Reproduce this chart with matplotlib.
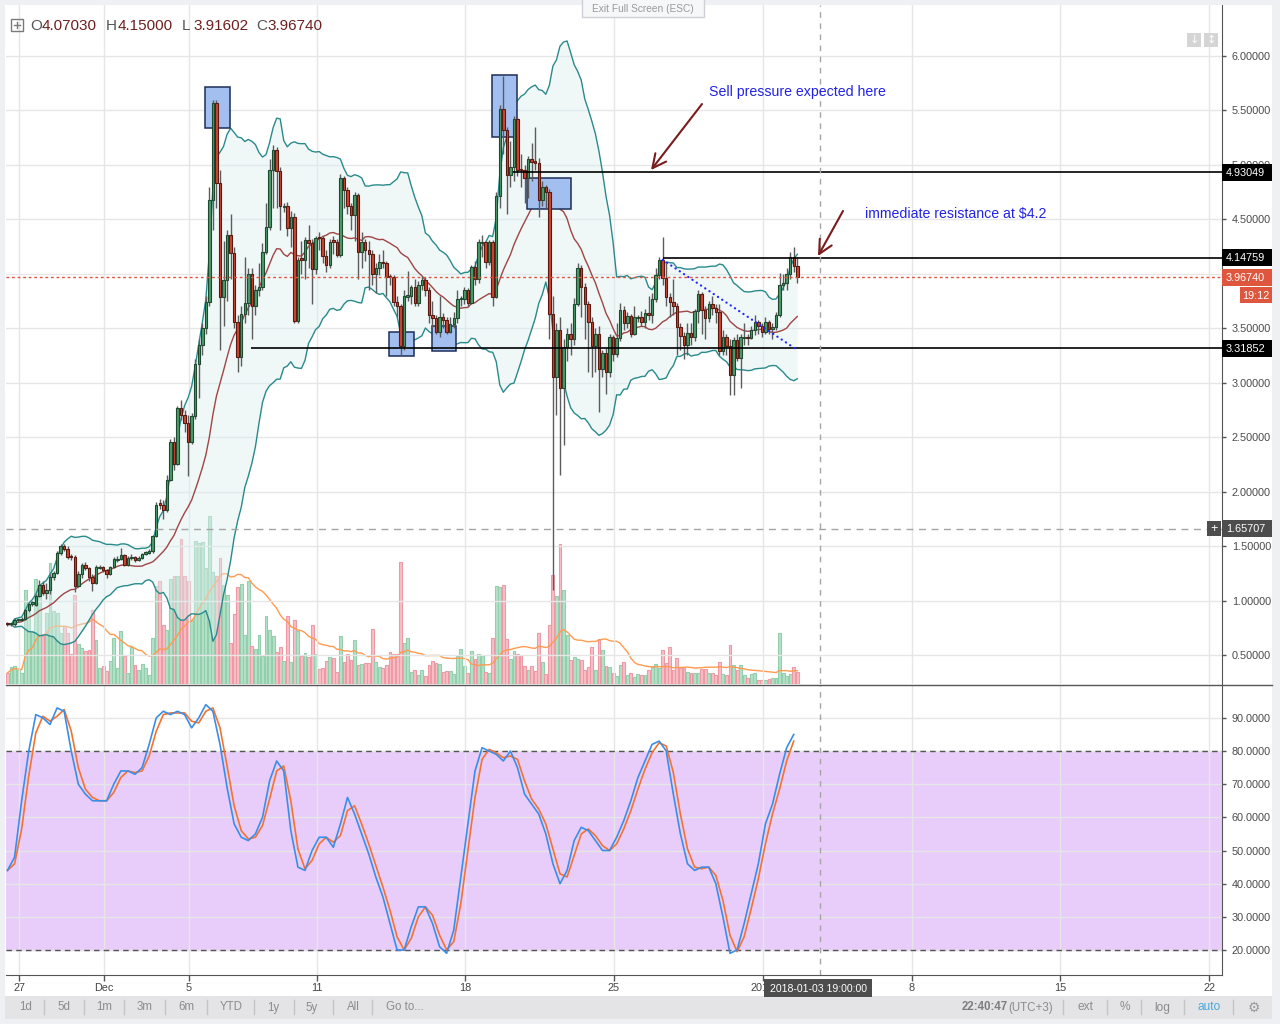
import numpy as np
import pandas as pd
import matplotlib
matplotlib.use("Agg")
import matplotlib.pyplot as plt
from matplotlib.patches import Rectangle
from matplotlib.lines import Line2D
from matplotlib.ticker import FormatStrFormatter, FuncFormatter

plt.rcParams['font.family'] = ['Liberation Sans', 'DejaVu Sans']

# ---------------- data (4h candles) ----------------
first_candle = "2017-11-26 11:00"

opens = [
    0.79, 0.78, 0.78, 0.82, 0.82, 0.83, 0.91, 0.97, 0.96, 1.04,
    1.14, 1.07, 1.10, 1.22, 1.25, 1.44, 1.50, 1.47, 1.41, 1.40,
    1.13, 1.24, 1.33, 1.30, 1.22, 1.16, 1.30, 1.31, 1.28, 1.24,
    1.31, 1.37, 1.38, 1.42, 1.33, 1.39, 1.40, 1.37, 1.39, 1.43,
    1.44, 1.45, 1.59, 1.89, 1.88, 1.83, 2.11, 2.46, 2.25, 2.77,
    2.70, 2.63, 2.46, 2.69, 3.17, 3.35, 3.50, 3.74, 4.68, 5.57,
    4.83, 3.79, 3.94, 4.36, 4.19, 3.56, 3.24, 3.63, 3.73, 4.00,
    3.70, 3.85, 3.88, 4.20, 4.43, 4.95, 5.14, 4.94, 4.61, 4.62,
    4.42, 4.52, 3.57, 4.14, 4.13, 4.31, 4.28, 4.04, 4.34, 4.33,
    4.16, 4.08, 4.31, 4.29, 4.17, 4.88, 4.77, 4.62, 4.54, 4.72,
    4.20, 4.29, 4.22, 4.18, 4.00, 4.05, 4.11, 4.10, 3.98, 3.97,
    3.74, 3.70, 3.34, 3.79, 3.80, 3.88, 3.73, 3.90, 3.94, 3.85,
    3.62, 3.59, 3.47, 3.60, 3.58, 3.47, 3.54, 3.59, 3.77, 3.77,
    3.85, 3.73, 4.06, 3.95, 4.28, 4.29, 4.11, 4.29, 3.79, 4.71,
    5.51, 5.32, 4.91, 4.98, 5.42, 4.96, 4.95, 4.88, 5.05, 5.03,
    5.02, 4.68, 4.80, 4.75, 3.63, 3.05, 3.48, 2.95, 3.33, 3.45,
    3.40, 3.72, 4.05, 3.88, 3.72, 3.56, 3.34, 3.45, 3.13, 3.27,
    3.10, 3.42, 3.26, 3.41, 3.67, 3.55, 3.61, 3.45, 3.59, 3.60,
    3.56, 3.64, 3.62, 3.77, 3.99, 4.13, 3.96, 3.79, 3.74, 3.70,
    3.51, 3.43, 3.35, 3.46, 3.42, 3.66, 3.81, 3.67, 3.59, 3.72,
    3.69, 3.65, 3.29, 3.42, 3.34, 3.07, 3.39, 3.23, 3.41, 3.42,
    3.41, 3.48, 3.56, 3.52, 3.47, 3.56, 3.49, 3.51, 3.62, 3.90,
    3.92, 4.00, 4.15, 4.0703,
]
highs = [
    0.80, 0.79, 0.84, 0.83, 0.85, 0.92, 0.98, 1.00, 1.06, 1.19,
    1.18, 1.16, 1.24, 1.27, 1.45, 1.52, 1.52, 1.50, 1.43, 1.42,
    1.27, 1.34, 1.35, 1.31, 1.24, 1.33, 1.33, 1.32, 1.29, 1.32,
    1.40, 1.41, 1.48, 1.43, 1.41, 1.43, 1.41, 1.41, 1.44, 1.45,
    1.47, 1.60, 1.90, 1.93, 1.92, 2.15, 2.48, 2.50, 2.79, 2.84,
    2.75, 2.70, 2.72, 3.22, 3.40, 3.55, 3.80, 4.80, 5.60, 5.60,
    4.95, 4.30, 4.40, 4.55, 4.25, 3.62, 3.70, 4.15, 4.05, 4.05,
    3.90, 4.10, 4.28, 4.65, 5.05, 5.18, 5.16, 4.98, 4.65, 4.66,
    4.58, 4.56, 4.15, 4.30, 4.34, 4.45, 4.32, 4.35, 4.38, 4.35,
    4.22, 4.32, 4.35, 4.32, 4.92, 4.90, 4.80, 4.65, 4.75, 4.74,
    4.38, 4.32, 4.30, 4.22, 4.10, 4.18, 4.22, 4.12, 4.00, 3.99,
    3.80, 3.72, 3.85, 4.03, 3.90, 3.95, 3.93, 3.98, 3.97, 3.88,
    3.75, 3.62, 3.80, 3.64, 3.60, 3.60, 3.65, 3.85, 3.80, 3.88,
    3.87, 4.08, 4.12, 4.32, 4.36, 4.30, 4.31, 4.31, 4.75, 5.55,
    5.82, 5.35, 5.22, 5.45, 5.44, 5.10, 5.00, 5.08, 5.20, 5.35,
    5.06, 4.85, 4.82, 4.78, 3.80, 3.55, 3.60, 3.40, 3.50, 3.55,
    3.78, 4.10, 4.08, 3.92, 3.75, 3.60, 3.50, 3.52, 3.30, 3.32,
    3.45, 3.44, 3.55, 3.73, 3.70, 3.65, 3.63, 3.70, 3.62, 3.66,
    3.68, 3.80, 3.82, 4.05, 4.15, 4.34, 4.10, 3.82, 3.95, 3.73,
    3.55, 3.47, 3.55, 3.55, 3.68, 3.85, 3.83, 3.70, 3.75, 3.80,
    3.72, 3.72, 3.48, 3.45, 3.40, 3.42, 3.45, 3.45, 3.55, 3.45,
    3.52, 3.62, 3.58, 3.55, 3.60, 3.58, 3.55, 3.65, 4.01, 4.00,
    4.05, 4.20, 4.25, 4.15,
]
lows = [
    0.77, 0.77, 0.77, 0.80, 0.81, 0.82, 0.89, 0.95, 0.95, 1.03,
    1.05, 1.01, 1.06, 1.19, 1.24, 1.42, 1.45, 1.38, 1.37, 1.08,
    1.12, 1.21, 1.28, 1.18, 1.09, 1.15, 1.29, 1.26, 1.21, 1.23,
    1.30, 1.35, 1.37, 1.32, 1.32, 1.37, 1.35, 1.36, 1.38, 1.42,
    1.43, 1.44, 1.58, 1.84, 1.75, 1.81, 2.10, 2.20, 2.24, 2.66,
    2.55, 2.14, 2.44, 2.67, 2.86, 3.25, 3.45, 3.70, 4.40, 4.60,
    3.30, 3.52, 3.75, 3.95, 3.50, 3.10, 3.15, 3.55, 3.62, 3.40,
    3.62, 3.80, 3.85, 4.18, 4.40, 4.60, 4.60, 4.40, 4.57, 4.35,
    4.25, 3.55, 3.55, 4.00, 3.95, 4.05, 3.72, 4.00, 4.22, 4.10,
    4.02, 4.05, 4.18, 4.15, 4.15, 4.60, 4.55, 4.40, 4.30, 3.95,
    4.05, 4.12, 3.85, 3.90, 3.82, 3.99, 4.05, 3.80, 3.90, 3.70,
    3.60, 3.25, 3.30, 3.75, 3.72, 3.70, 3.70, 3.85, 3.80, 3.55,
    3.50, 3.45, 3.42, 3.50, 3.45, 3.46, 3.50, 3.55, 3.70, 3.72,
    3.70, 3.72, 3.90, 3.92, 4.15, 4.05, 4.08, 3.70, 3.78, 4.60,
    5.10, 4.55, 4.80, 4.85, 4.90, 4.80, 4.65, 4.70, 4.85, 4.95,
    4.52, 4.62, 4.60, 3.40, 1.10, 2.70, 2.15, 2.43, 3.20, 3.25,
    3.35, 3.70, 3.60, 3.40, 3.10, 3.05, 3.10, 2.73, 3.05, 2.90,
    3.05, 3.20, 3.24, 3.38, 3.48, 3.50, 3.42, 3.44, 3.56, 3.52,
    3.50, 3.58, 3.55, 3.74, 3.95, 3.90, 3.70, 3.60, 3.62, 3.25,
    3.30, 3.22, 3.25, 3.35, 3.38, 3.55, 3.45, 3.40, 3.56, 3.62,
    3.55, 3.25, 3.25, 3.25, 2.89, 2.89, 3.20, 2.95, 3.35, 3.35,
    3.40, 3.44, 3.45, 3.42, 3.45, 3.45, 3.40, 3.48, 3.60, 3.85,
    3.85, 3.95, 4.02, 3.91602,
]
closes = [
    0.78, 0.78, 0.82, 0.82, 0.83, 0.91, 0.97, 0.97, 1.04, 1.14,
    1.07, 1.10, 1.22, 1.25, 1.44, 1.50, 1.47, 1.40, 1.40, 1.13,
    1.24, 1.33, 1.30, 1.22, 1.16, 1.31, 1.31, 1.28, 1.24, 1.31,
    1.38, 1.38, 1.42, 1.33, 1.39, 1.40, 1.37, 1.39, 1.43, 1.44,
    1.45, 1.59, 1.88, 1.88, 1.83, 2.11, 2.46, 2.25, 2.77, 2.70,
    2.63, 2.46, 2.69, 3.17, 3.35, 3.50, 3.74, 4.68, 5.57, 4.83,
    3.79, 3.94, 4.36, 4.19, 3.56, 3.24, 3.63, 3.73, 4.00, 3.70,
    3.85, 3.88, 4.20, 4.43, 4.95, 5.14, 4.94, 4.62, 4.62, 4.42,
    4.52, 3.57, 4.13, 4.13, 4.31, 4.28, 4.04, 4.33, 4.33, 4.16,
    4.08, 4.29, 4.29, 4.17, 4.88, 4.77, 4.62, 4.54, 4.72, 4.20,
    4.29, 4.22, 4.18, 4.00, 4.05, 4.11, 4.10, 3.97, 3.97, 3.74,
    3.70, 3.34, 3.80, 3.80, 3.88, 3.73, 3.90, 3.94, 3.85, 3.62,
    3.59, 3.47, 3.60, 3.58, 3.47, 3.54, 3.59, 3.77, 3.77, 3.85,
    3.73, 4.06, 3.95, 4.29, 4.29, 4.11, 4.29, 3.79, 4.71, 5.51,
    5.32, 4.91, 4.98, 5.42, 4.95, 4.95, 4.88, 5.05, 5.03, 5.02,
    4.68, 4.80, 4.75, 3.63, 3.05, 3.48, 2.95, 3.33, 3.45, 3.40,
    3.72, 4.05, 3.88, 3.72, 3.56, 3.34, 3.45, 3.13, 3.27, 3.10,
    3.42, 3.26, 3.41, 3.67, 3.55, 3.61, 3.45, 3.60, 3.60, 3.56,
    3.64, 3.62, 3.77, 3.99, 4.13, 3.96, 3.79, 3.74, 3.70, 3.51,
    3.43, 3.35, 3.46, 3.42, 3.66, 3.81, 3.67, 3.59, 3.72, 3.69,
    3.65, 3.29, 3.42, 3.34, 3.07, 3.39, 3.23, 3.42, 3.42, 3.41,
    3.48, 3.56, 3.52, 3.47, 3.56, 3.49, 3.51, 3.62, 3.90, 3.92,
    4.00, 4.15, 4.07, 3.9674,
]
volumes = [
    11, 17, 18, 14, 11, 94, 71, 53, 105, 94,
    48, 71, 121, 73, 71, 51, 58, 51, 30, 89,
    40, 36, 33, 34, 74, 44, 16, 18, 13, 23,
    46, 16, 53, 28, 11, 37, 19, 14, 20, 16,
    9, 46, 98, 103, 59, 54, 105, 108, 108, 145,
    108, 103, 64, 143, 141, 142, 116, 168, 112, 108,
    126, 99, 89, 41, 70, 97, 100, 49, 103, 38,
    35, 49, 28, 68, 54, 48, 32, 37, 23, 68,
    22, 64, 53, 28, 31, 27, 59, 30, 15, 16,
    23, 27, 26, 12, 48, 22, 30, 24, 44, 19,
    20, 21, 21, 55, 22, 17, 16, 19, 32, 30,
    30, 122, 41, 46, 12, 14, 9, 14, 8, 19,
    23, 21, 20, 12, 13, 13, 10, 28, 35, 18,
    11, 33, 25, 30, 28, 12, 11, 46, 98, 97,
    99, 45, 25, 33, 30, 28, 18, 14, 18, 13,
    51, 22, 10, 59, 109, 88, 140, 94, 49, 24,
    27, 25, 24, 14, 17, 37, 14, 45, 34, 18,
    17, 11, 8, 19, 22, 9, 11, 7, 10, 9,
    9, 14, 17, 20, 16, 34, 21, 37, 14, 26,
    16, 16, 12, 11, 11, 11, 15, 15, 11, 11,
    9, 22, 10, 9, 39, 19, 14, 19, 9, 6,
    10, 11, 4, 4, 4, 5, 6, 6, 51, 11,
    8, 10, 17, 12,
]
# Stochastic %K read at every second candle
stoch_k = [
    44, 48, 65, 80, 91, 90, 88, 93, 92, 80,
    70, 67, 65, 65, 65, 70, 74, 74, 73, 75,
    82, 90, 92, 91, 92, 91, 87, 90, 94, 92,
    82, 69, 58, 54, 53, 55, 60, 71, 77, 74,
    56, 45, 44, 50, 54, 54, 51, 58, 66, 61,
    55, 49, 42, 36, 28, 20, 20, 27, 33, 33,
    28, 21, 19, 26, 42, 58, 74, 81, 80, 79,
    77, 80, 75, 67, 64, 61, 55, 46, 40, 44,
    53, 57, 56, 53, 50, 50, 54, 59, 65, 72,
    77, 82, 83, 80, 67, 55, 46, 44, 45, 45,
    40, 30, 19, 20, 28, 37, 46, 58, 64, 73,
    81, 85,
]

tick_dates = ["2017-11-27", "2017-12-01", "2017-12-05", "2017-12-11", "2017-12-18",
              "2017-12-25", "2018-01-01", "2018-01-08", "2018-01-15", "2018-01-22"]
tick_labels = ["27", "Dec", "5", "11", "18", "25", "2018", "8", "15", "22"]
price_ticks = [0.5, 1.0, 1.5, 2.0, 2.5, 3.0, 3.5, 4.0, 4.5, 5.0, 5.5, 6.0]
stoch_ticks = [20, 30, 40, 50, 60, 70, 80, 90]
level_prices = [4.93049, 4.14759, 3.31852]
level_starts = ["2017-12-20 06:00", "2017-12-27 07:00", "2017-12-07 22:00"]
cursor_price = 1.65707
cursor_time = "2018-01-03 19:00"
cursor_label = "2018-01-03 19:00:00"
countdown = "19:12"

# ---------------- helpers ----------------
W, H = 1280, 1024
fig = plt.figure(figsize=(W / 100, H / 100), dpi=100)
fig.patch.set_facecolor('#eef0f3')

ref = pd.Timestamp("2017-12-01")


def day(ts):
    return (pd.Timestamp(ts) - ref) / pd.Timedelta(days=1)


def px2day(px):
    return (px - 104) / 21.25


def fx(px):
    return px / W


def fy(py):
    return 1 - py / H


def frect(x0, y0, x1, y1, **kw):
    r = Rectangle((fx(x0), fy(y1)), fx(x1) - fx(x0), fy(y0) - fy(y1),
                  transform=fig.transFigure, **kw)
    fig.add_artist(r)
    return r


def ftext(x, y, s, **kw):
    return fig.text(fx(x), fy(y), s, **kw)


def fline(x0, y0, x1, y1, **kw):
    fig.add_artist(Line2D([fx(x0), fx(x1)], [fy(y0), fy(y1)], transform=fig.transFigure, **kw))


N = len(closes)
o = np.asarray(opens)
hi = np.asarray(highs)
lo = np.asarray(lows)
c = np.asarray(closes)
v = np.asarray(volumes, dtype=float)
times = pd.date_range(first_candle, periods=N, freq="4h")
t = np.asarray((times - ref) / pd.Timedelta(days=1), dtype=float)
up = c >= o

# chart background
frect(5, 5, 1272, 996, facecolor='white', edgecolor='none', zorder=-5)

L, R = 6, 1222
rect_p = [fx(L), fy(684), fx(R) - fx(L), fy(5) - fy(684)]
vax = fig.add_axes(rect_p, label='volume')
ax = fig.add_axes(rect_p, label='price')
sax = fig.add_axes([fx(L), fy(975), fx(R) - fx(L), fy(685) - fy(975)], label='stoch')
vax.set_zorder(0)
ax.set_zorder(0.5)
ax.patch.set_visible(False)
vax.set_axis_off()

xl = (px2day(L), px2day(R))
tick_pos = [day(d) for d in tick_dates]
grid_c = '#e6e6e6'

for a in (vax, ax, sax):
    a.set_xlim(xl)

ax.set_ylim(0.2333, 6.4683)
vax.set_ylim(0, 679)
sax.set_ylim(12.46, 99.92)


def price_fmt(val, pos):
    # the 4.00000 label sits under the live-price tag and is not visible
    return '' if abs(val - 4.0) < 1e-9 else f"{val:.5f}"


for a, yt, fmt in ((ax, price_ticks, FuncFormatter(price_fmt)),
                   (sax, stoch_ticks, FormatStrFormatter('%.4f'))):
    a.set_xticks(tick_pos)
    a.set_yticks(yt)
    a.yaxis.set_major_formatter(fmt)
    a.yaxis.tick_right()
    a.grid(True, color=grid_c, lw=1)
    a.set_axisbelow(True)
    a.tick_params(axis='y', length=3, width=1, color='#555555', labelsize=7.8,
                  labelcolor='#4a4a4a', pad=4)
    a.spines['top'].set_visible(False)
    a.spines['left'].set_visible(False)
    a.spines['right'].set_color('#555555')

ax.spines['bottom'].set_visible(False)
ax.tick_params(axis='x', length=0, labelbottom=False)
sax.spines['bottom'].set_color('#555555')
sax.set_xticklabels(tick_labels)
sax.tick_params(axis='x', length=4, width=1, color='#555555', labelsize=7.8,
                labelcolor='#444444', pad=2)

# ---------------- volume ----------------
vax.bar(t, v, width=0.135, color=np.where(up, '#b5e0c8', '#f8c0c7'),
        edgecolor=np.where(up, '#92cfad', '#ee9aa5'), linewidth=0.8, zorder=1)
vma = pd.Series(v).rolling(20, min_periods=1).mean()
vax.plot(t, vma, color='#ff9a50', lw=1.0, zorder=2)

# ---------------- Bollinger bands ----------------
cs = pd.Series(c)
basis = cs.rolling(20, min_periods=1).mean()
dev = cs.rolling(20, min_periods=1).std(ddof=0)
upper = basis + 2 * dev
lower = basis - 2 * dev
ax.fill_between(t, lower, upper, color='#dcefef', alpha=0.45, lw=0, zorder=1)
ax.plot(t, upper, color='#2a8a8b', lw=1.0, zorder=2)
ax.plot(t, lower, color='#2a8a8b', lw=1.0, zorder=2)
ax.plot(t, basis, color='#a04545', lw=1.0, zorder=2)

# ---------------- highlight boxes ----------------
boxes = [("2017-12-05 18:25", "2017-12-06 22:40", 5.336, 5.713),
         ("2017-12-19 06:30", "2017-12-20 10:50", 5.253, 5.823),
         ("2017-12-20 22:05", "2017-12-22 23:00", 4.592, 4.877),
         ("2017-12-14 10:20", "2017-12-15 14:25", 3.242, 3.463),
         ("2017-12-16 10:50", "2017-12-17 13:55", 3.288, 3.521)]
for d0, d1, p0, p1 in boxes:
    ax.add_patch(Rectangle((day(d0), p0), day(d1) - day(d0), p1 - p0,
                           facecolor='#a2bff0', edgecolor='#1d2d58', lw=1.1, zorder=2.5))

# ---------------- candles ----------------
ax.vlines(t, lo, hi, color='#5c5c5c', lw=1.0, zorder=3)
body_lo = np.minimum(o, c)
body_h = np.maximum(np.abs(c - o), 0.012)
ax.bar(t[up], body_h[up], width=0.115, bottom=body_lo[up], color='#4c9b6b',
       edgecolor='#1e4a30', linewidth=0.8, zorder=4)
ax.bar(t[~up], body_h[~up], width=0.115, bottom=body_lo[~up], color='#cc4631',
       edgecolor='#5a1a12', linewidth=0.8, zorder=4)

# ---------------- levels / lines ----------------
for p, d0 in zip(level_prices, level_starts):
    ax.hlines(p, day(d0), xl[1], color='black', lw=1.2, zorder=5)
ax.axhline(c[-1], color='#e0543f', ls=(0, (2, 2)), lw=1.0, zorder=5)
ax.axhline(cursor_price, color='#a5a5a5', ls=(0, (5, 4)), lw=1.0, zorder=5)
for a in (ax, sax):
    a.axvline(px2day(820), color='#a5a5a5', ls=(0, (4, 4)), lw=1.0, zorder=6)

# trend line
ax.plot([day("2017-12-27 07:00"), day("2018-01-02 15:00")], [4.128, 3.30],
        color='#2424ff', lw=1.6, ls=(0, (0.1, 2.2)), dash_capstyle='round', zorder=6)

# arrows & notes
arrow_kw = dict(arrowstyle='->,head_length=0.7,head_width=0.35', color='#7a1c1c',
                lw=1.5, mutation_scale=14, shrinkA=0, shrinkB=0)
ax.annotate('', xy=(px2day(651), 4.953), xytext=(px2day(702), 5.559),
            arrowprops=arrow_kw, zorder=7)
ax.annotate('', xy=(px2day(818), 4.163), xytext=(px2day(843), 4.577),
            arrowprops=arrow_kw, zorder=7)
ax.text(px2day(709), 5.669, "Sell pressure expected here", color='#2222e6',
        fontsize=10.2, ha='left', va='center', zorder=7)
ax.text(px2day(865), 4.549, r"immediate resistance at \$4.2", color='#2222e6',
        fontsize=10.2, ha='left', va='center', zorder=7)

# ---------------- stochastic ----------------
sax.axhspan(20, 80, color='#e8cdfb', zorder=0)
sax.axhline(80, color='#555555', ls=(0, (4, 3)), lw=1.0, zorder=1)
sax.axhline(20, color='#555555', ls=(0, (4, 3)), lw=1.0, zorder=1)
k = pd.Series(stoch_k, dtype=float)
d = k.rolling(2, min_periods=1).mean()
t2 = t[::2][:len(k)]
sax.plot(t2, d, color='#f5722f', lw=1.2, zorder=3)
sax.plot(t2, k, color='#3a8ee8', lw=1.2, zorder=4)

# ---------------- overlays in figure space ----------------
fline(6, 684.5, 1272, 684.5, color='#555555', lw=1.0, zorder=5)


def y_of(a, val):
    return H - a.transData.transform((0, val))[1]


def price_box(val, text, fc, x0=1222, x1=1272, dy=0):
    yy = y_of(ax, val) + dy
    frect(x0, yy - 8.5, x1, yy + 8.5, facecolor=fc, edgecolor='none', zorder=6)
    ftext(x0 + 4, yy + 0.5, text, color='white', fontsize=7.8, ha='left', va='center', zorder=7)


for p in level_prices:
    price_box(p, f"{p:.5f}", '#000000')
price_box(c[-1], f"{c[-1]:.5f}", '#df563f')
yy = y_of(ax, c[-1]) + 18
frect(1240, yy - 8, 1272, yy + 8, facecolor='#df563f', edgecolor='none', zorder=6)
ftext(1256, yy + 0.5, countdown, color='white', fontsize=7.8, ha='center', va='center', zorder=7)
price_box(cursor_price, f"{cursor_price:.5f}", '#4d4d4d')
yy = y_of(ax, cursor_price)
frect(1207, yy - 7.5, 1221, yy + 7.5, facecolor='#4d4d4d', edgecolor='none', zorder=6)
ftext(1214, yy, '+', color='white', fontsize=9, ha='center', va='center', zorder=7)

# cursor time label
frect(764, 979, 872, 997, facecolor='#4d4d4d', edgecolor='none', zorder=6)
ftext(818, 988.5, cursor_label, color='white', fontsize=7.6, ha='center', va='center', zorder=7)

# header OHLC
frect(11, 19, 23, 31, facecolor='none', edgecolor='#7a7a7a', lw=1.0, zorder=6)
fline(14, 25, 20, 25, color='#7a7a7a', lw=1.0, zorder=6)
fline(17, 22, 17, 28, color='#7a7a7a', lw=1.0, zorder=6)
for lab, val, x in (('O', o[-1], 30), ('H', hi[-1], 106), ('L', lo[-1], 182), ('C', c[-1], 256)):
    ftext(x, 25.5, lab, color='#555555', fontsize=11, ha='left', va='center', zorder=7)
    ftext(x + 11.5, 25.5, f"{val:.5f}", color='#6e1f1f', fontsize=11, ha='left', va='center', zorder=7)

# exit full screen tab
frect(582, -2, 704, 17, facecolor='#f6f7f8', edgecolor='#cdd1d6', lw=1.0, zorder=6)
ftext(643, 8.5, "Exit Full Screen (ESC)", color='#9a9a9a', fontsize=7.3, ha='center', va='center', zorder=7)

# top-right small buttons
frect(1187, 33, 1201, 47, facecolor='#d5d5d5', edgecolor='none', zorder=6)
frect(1204, 33, 1218, 47, facecolor='#d5d5d5', edgecolor='none', zorder=6)
ftext(1194, 40, '↓', color='white', fontsize=8, ha='center', va='center', family='DejaVu Sans', zorder=7)
ftext(1211, 40, '↕', color='white', fontsize=8, ha='center', va='center', family='DejaVu Sans', zorder=7)

# bottom toolbar
frect(5, 996, 1272, 1019, facecolor='#e4e4e6', edgecolor='none', zorder=4)
tb_items = ['1d', '5d', '1m', '3m', '6m', 'YTD', '1y', '5y', 'All']
tb_x = [26, 64, 104, 145, 186, 231, 273, 312, 353]
for s, x in zip(tb_items, tb_x):
    ftext(x, 1007.5, s, color='#8c8c8c', fontsize=8.3, ha='center', va='center', zorder=7)
ftext(386, 1007.5, 'Go to...', color='#8c8c8c', fontsize=8.3, ha='left', va='center', zorder=7)
for x in [44, 84, 124, 165, 207, 254, 294, 333, 372, 1063, 1107, 1141, 1184, 1233]:
    fline(x, 1000, x, 1014, color='#c4c4c4', lw=1.0, zorder=6)
ftext(985, 1007.5, '22:40:47', color='#7d7d7d', fontsize=8.3, ha='center', va='center',
      fontweight='bold', zorder=7)
ftext(1031, 1007.5, '(UTC+3)', color='#8c8c8c', fontsize=8.3, ha='center', va='center', zorder=7)
ftext(1086, 1007.5, 'ext', color='#8c8c8c', fontsize=8.6, ha='center', va='center', zorder=7)
ftext(1124.5, 1007.5, '%', color='#8c8c8c', fontsize=8.6, ha='center', va='center', zorder=7)
ftext(1162, 1007.5, 'log', color='#8c8c8c', fontsize=8.6, ha='center', va='center', zorder=7)
ftext(1209, 1007.5, 'auto', color='#4aa8e0', fontsize=8.6, ha='center', va='center', zorder=7)
ftext(1254, 1007.5, '⚙', color='#9a9a9a', fontsize=10, ha='center', va='center',
      family='DejaVu Sans', zorder=7)

fig.savefig("out.png", dpi=100)
